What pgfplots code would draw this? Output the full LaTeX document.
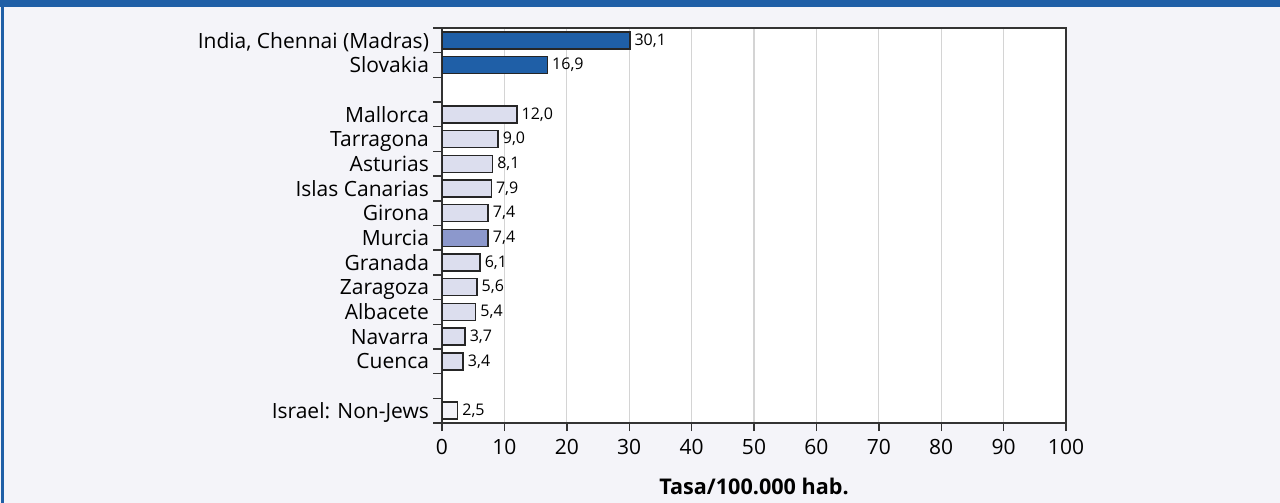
\documentclass[border=0pt]{standalone}
\usepackage{fontspec}
\setmainfont{Open Sans}
\usepackage{pgfplots}
\pgfplotsset{compat=1.18}

\definecolor{frameblue}{HTML}{1F5FA7}
\definecolor{bgpanel}{HTML}{F4F4F9}
\definecolor{lightbar}{HTML}{DCDEEE}
\definecolor{midbar}{HTML}{8C98CC}
\definecolor{palebar}{HTML}{F2F2F8}
\definecolor{gridgray}{HTML}{D4D4D4}

\begin{document}
\begin{tikzpicture}
  % panel background and blue frame
  \useasboundingbox (0,0) rectangle (640pt,251.5pt);
  \fill[bgpanel] (0,0) rectangle (640pt,251.5pt);
  \fill[frameblue] (0,248pt) rectangle (640pt,251.5pt);
  \fill[frameblue] (0.5pt,0) rectangle (2pt,251.5pt);

  \begin{axis}[
    at={(221pt,40pt)}, anchor=south west,
    width=312pt, height=197.5pt, scale only axis,
    axis background/.style={fill=white},
    axis line style={draw=black!80, line width=0.7pt},
    xbar, bar width=8.5pt, bar shift=0pt,
    xmin=0, xmax=100,
    xtick={0,10,...,100},
    xmajorgrids, major grid style={gridgray, line width=0.6pt},
    y dir=reverse, ymin=-0.5, ymax=15.5,
    ytick={0,1,3,4,5,6,7,8,9,10,11,12,13,15},
    yticklabels={{India, Chennai (Madras)}, Slovakia, Mallorca, Tarragona,
      Asturias, Islas Canarias, Girona, Murcia, Granada, Zaragoza, Albacete,
      Navarra, Cuenca, Israel: Non-Jews},
    minor ytick={-0.5,0.5,...,15.5},
    every major y tick/.append style={draw=none},
    every minor y tick/.append style={draw=black!80, line width=0.7pt},
    every major x tick/.append style={draw=black!80, line width=0.7pt},
    tick align=outside, major tick length=4pt, minor tick length=4.5pt,
    xtick pos=bottom, ytick pos=left,
    /pgf/number format/assume math mode=true,
    tick label style={font=\fontsize{10.5}{12}\selectfont, text=black},
    yticklabel style={anchor=base east, xshift=1pt, yshift=-3.85pt},
    xticklabel style={anchor=base, yshift=-11.5pt},
    xlabel={\textbf{Tasa/100.000 hab.}},
    xlabel style={font=\fontsize{10.8}{12}\selectfont, anchor=base,
      at={(axis description cs:0.5,0)}, yshift=-35.5pt},
    nodes near coords,
    nodes near coords style={anchor=west, inner sep=1pt, xshift=1pt,
      font=\fontsize{8}{9}\selectfont, text=black,
      /pgf/number format/.cd, fixed, fixed zerofill, precision=1, use comma},
  ]
    \addplot[draw=black!85, line width=0.75pt, fill=frameblue] coordinates {
      (30.1,0) (16.9,1)
    };
    \addplot[draw=black!85, line width=0.75pt, fill=lightbar] coordinates {
      (12.0,3) (9.0,4) (8.1,5) (7.9,6) (7.4,7)
      (6.1,9) (5.6,10) (5.4,11) (3.7,12) (3.4,13)
    };
    \addplot[draw=black!85, line width=0.75pt, fill=midbar] coordinates {
      (7.4,8)
    };
    \addplot[draw=black!85, line width=0.75pt, fill=palebar] coordinates {
      (2.5,15)
    };
  \end{axis}
\end{tikzpicture}
\end{document}
